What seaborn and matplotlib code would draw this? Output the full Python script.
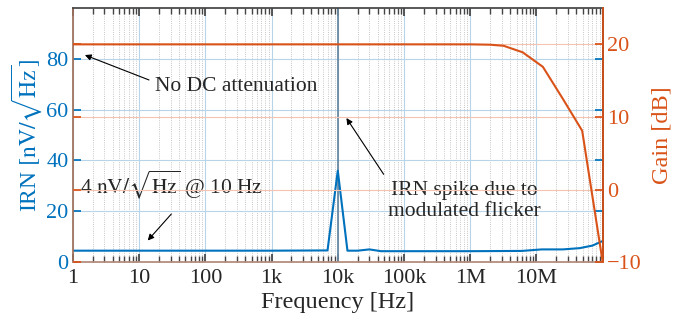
"""IRN and gain vs frequency, MATLAB-like dual axis plot."""

import matplotlib

matplotlib.use("Agg")
import matplotlib.pyplot as plt
import matplotlib.ticker as mticker
import numpy as np
import pandas as pd
import seaborn as sns

# IRN trace (left axis)
irn_freq = [1, 10, 100, 1e3, 7.0e3, 1.0e4, 1.4e4, 2.0e4, 3.0e4, 4.5e4, 1e5, 1e6,
            6e6, 1.2e7, 2.5e7, 4.5e7, 7e7, 1e8]
irn_val = [4.5, 4.5, 4.5, 4.5, 4.6, 36.0, 4.5, 4.5, 5.0, 4.3, 4.3, 4.3,
           4.4, 5.0, 5.0, 5.5, 6.5, 8.3]

# gain trace (right axis)
gain_freq = [1, 10, 100, 1e3, 1e4, 1e5, 1e6, 2e6, 3.2e6, 6.2e6, 1.25e7, 2.5e7, 4.9e7, 1e8]
gain_db = [20, 20, 20, 20, 20, 20, 20, 19.95, 19.8, 18.9, 16.9, 12.5, 8.1, -10]

x_ticks = [1, 10, 100, 1e3, 1e4, 1e5, 1e6, 1e7]
x_labels = ["1", "10", "100", "1k", "10k", "100k", "1M", "10M"]
irn_ticks = [0, 20, 40, 60, 80]
gain_ticks = [-10, 0, 10, 20]

BLUE = "#0072BD"
ORANGE = "#D95319"

sns.set_theme(style="ticks")
plt.rcParams["font.family"] = ["Liberation Serif", "DejaVu Serif"]
plt.rcParams["mathtext.fontset"] = "stix"

irn_df = pd.DataFrame({"freq": irn_freq, "irn": irn_val})
gain_df = pd.DataFrame({"freq": gain_freq, "gain": gain_db})

fig = plt.figure(figsize=(6.81, 3.22), dpi=100)
ax = fig.add_axes([0.107, 0.186, 0.778, 0.789])
ax2 = ax.twinx()

sns.lineplot(data=irn_df, x="freq", y="irn", ax=ax, color=BLUE, lw=1.5)
sns.lineplot(data=gain_df, x="freq", y="gain", ax=ax2, color=ORANGE, lw=1.5)

ax.set_xscale("log")
ax.set_xlim(1, 1e8)
ax.set_ylim(0, 100)
ax2.set_ylim(-10, 25)

ax.xaxis.set_major_locator(mticker.FixedLocator(x_ticks))
ax.xaxis.set_major_formatter(mticker.FixedFormatter(x_labels))
ax.xaxis.set_minor_locator(mticker.LogLocator(base=10, subs=np.arange(2, 10), numticks=200))
ax.xaxis.set_minor_formatter(mticker.NullFormatter())
ax.set_yticks(irn_ticks)
ax2.set_yticks(gain_ticks)

ax.tick_params(axis="x", which="both", direction="in", top=True, labelsize=16,
               color="#444444", pad=5)
ax.tick_params(axis="y", direction="in", labelsize=16, colors=BLUE, right=True, pad=3)
ax2.tick_params(axis="y", direction="in", labelsize=16, colors=ORANGE, left=True, pad=3)

# grids
ax.grid(True, which="minor", axis="x", color="#b4b4b4", lw=0.6, ls=":")
ax.grid(True, which="major", axis="x", color="#b8d4e8", lw=0.8)
ax.grid(True, which="major", axis="y", color="#b8d4e8", lw=0.8)
ax2.grid(True, which="major", axis="y", color="#f4c4b0", lw=0.8)
ax.set_axisbelow(True)
ax.axvline(1e4, color="#6b8aa3", lw=1.3, zorder=1)

ax.set_xlabel("Frequency [Hz]", fontsize=17.5, labelpad=3)
ax.set_ylabel(r"IRN $[\mathrm{nV}/\sqrt{\mathrm{Hz}}]$", fontsize=17, color=BLUE, labelpad=2)
ax2.set_ylabel("Gain [dB]", fontsize=17.5, color=ORANGE, labelpad=7)

ax.spines["top"].set_color("#444444")
ax.spines["bottom"].set_color("#b08878")
ax.spines["left"].set_color("#a0705a")
ax2.spines["right"].set_color(ORANGE)
ax2.spines["left"].set_visible(False)
ax2.spines["top"].set_visible(False)
ax2.spines["bottom"].set_visible(False)

arrow = dict(arrowstyle="-|>", color="black", lw=0.8, mutation_scale=9)
ax.annotate("No DC attenuation", xy=(1.52, 81.5), xytext=(17.3, 69.3),
            fontsize=15.5, va="center", ha="left",
            arrowprops=dict(arrow, shrinkA=2, shrinkB=0, relpos=(0, 0.7)))
ax.annotate(r"4 $\mathrm{nV}/\sqrt{\mathrm{Hz}}$ @ 10 Hz", xy=(13.5, 8.5), xytext=(1.28, 30.5),
            fontsize=15.5, va="center", ha="left",
            arrowprops=dict(arrow, shrinkA=0, shrinkB=0, relpos=(0.5, -0.4)))
ax.annotate("IRN spike due to\nmodulated flicker", xy=(1.35e4, 56.7), xytext=(8.2e5, 24),
            fontsize=15.5, va="center", ha="center", linespacing=1.15,
            arrowprops=dict(arrow, shrinkA=3, shrinkB=0, relpos=(0.0, 1.0)))

fig.savefig("out.png", dpi=100)
